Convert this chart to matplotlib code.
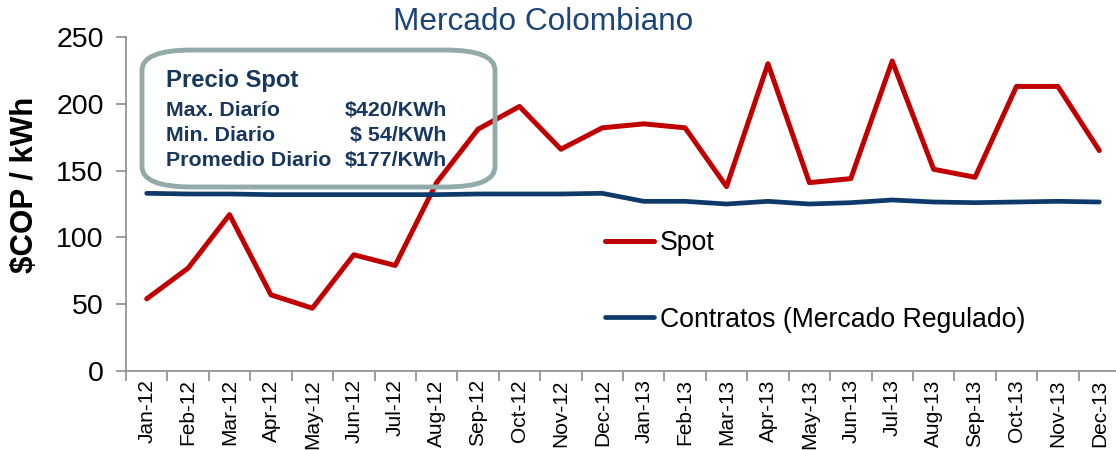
import numpy as np
import matplotlib
matplotlib.use("Agg")
import matplotlib.pyplot as plt
from matplotlib.patches import FancyBboxPatch

plt.rcParams['font.family'] = ['Liberation Sans', 'DejaVu Sans']

months = ['Jan-12', 'Feb-12', 'Mar-12', 'Apr-12', 'May-12', 'Jun-12', 'Jul-12', 'Aug-12',
          'Sep-12', 'Oct-12', 'Nov-12', 'Dec-12', 'Jan-13', 'Feb-13', 'Mar-13', 'Apr-13',
          'May-13', 'Jun-13', 'Jul-13', 'Aug-13', 'Sep-13', 'Oct-13', 'Nov-13', 'Dec-13']
spot = [54, 77, 117, 57, 47, 87, 79, 141, 181, 198, 166, 182,
        185, 182, 138, 230, 141, 144, 232, 151, 145, 213, 213, 165]
contratos = [133, 132.5, 132.5, 132, 132, 132, 132, 132, 132.5, 132.5, 132.5, 133,
             127, 127, 125, 127, 125, 126, 128, 126.5, 126, 126.5, 127, 126.5]
box_lines = [('Max. Diarío', '$420/KWh'), ('Min. Diario', '$ 54/KWh'),
             ('Promedio Diario', '$177/KWh')]

red = '#C00000'
navy = '#0E3A6B'
grey = '#8C8C8C'

fig = plt.figure(figsize=(11.16, 4.5), dpi=100)
ax = fig.add_axes([126 / 1116, 79 / 450, 994 / 1116, 334 / 450])

x = np.arange(len(months))
ax.plot(x, spot, color=red, lw=3.6, solid_capstyle='round', label='Spot', zorder=3)
ax.plot(x, contratos, color=navy, lw=3.4, solid_capstyle='round',
        label='Contratos (Mercado Regulado)', zorder=3)

ax.set_xlim(-0.5, len(months) - 0.5)
ax.set_ylim(0, 250)
ax.set_yticks(range(0, 251, 50))
ax.set_xticks(x)
ax.set_xticklabels(months, rotation=90, fontsize=15)
ax.set_xticks(np.arange(-0.5, len(months), 1), minor=True)
ax.tick_params(axis='x', which='major', length=0, pad=6)
ax.tick_params(axis='x', which='minor', length=7, color=grey, width=1.2)
ax.tick_params(axis='y', length=7, color=grey, width=1.2, labelsize=20.5, pad=9)
for s in ['top', 'right']:
    ax.spines[s].set_visible(False)
for s in ['left', 'bottom']:
    ax.spines[s].set_color(grey)
    ax.spines[s].set_linewidth(1.2)

ax.set_ylabel('$COP / kWh', fontsize=22.5, fontweight='bold')
ax.yaxis.set_label_coords(-0.0865, 0.557)

fig.text(543 / 1116, 1 - 22 / 450, 'Mercado Colombiano', color='#1B4478',
         fontsize=22.7, ha='center', va='center')

leg = ax.legend(loc='upper left', bbox_to_anchor=(605 / 1116, 1 - 230 / 450),
                bbox_transform=fig.transFigure, frameon=False, fontsize=19.2,
                handlelength=1.85, handletextpad=0.2, labelspacing=1.9,
                borderpad=0, borderaxespad=0)

box = FancyBboxPatch((142 / 1116, 1 - 187 / 450), (495 - 142) / 1116, (187 - 50) / 450,
                     boxstyle='round,pad=0,rounding_size=0.045', transform=fig.transFigure,
                     facecolor='none', edgecolor='#92AAAA', lw=3.5, zorder=5)
fig.patches.append(box)

tc = '#17375E'
fig.text(166 / 1116, 1 - 80 / 450, 'Precio Spot', color=tc, fontsize=17.2,
         fontweight='bold', va='center')
for i, (lab, val) in enumerate(box_lines):
    y = 1 - (111 + i * 24.5) / 450
    fig.text(166 / 1116, y, lab, color=tc, fontsize=15.4, fontweight='bold', va='center')
    fig.text(447 / 1116, y, val, color=tc, fontsize=15.4, fontweight='bold',
             va='center', ha='right')

fig.savefig('out.png', dpi=100)
